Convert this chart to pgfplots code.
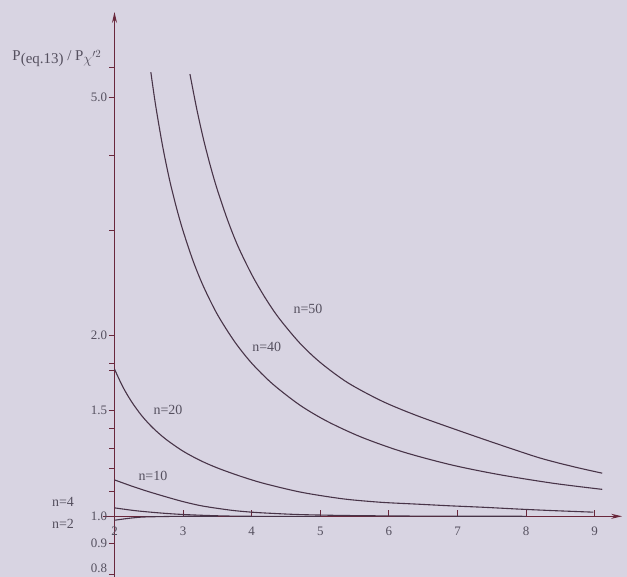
\documentclass[border=0pt]{standalone}
\usepackage{fontspec}
\setmainfont{Liberation Serif}
\usepackage{pgfplots}
\pgfplotsset{compat=1.18}
\usetikzlibrary{arrows.meta,backgrounds}
\definecolor{bg}{RGB}{216,212,226}
\definecolor{curve}{RGB}{72,52,72}
\definecolor{axcol}{RGB}{105,40,60}
\definecolor{txt}{RGB}{85,80,95}
\begin{document}
\begin{tikzpicture}
\begin{axis}[
  scale only axis, width=519.3bp, height=564.8bp,
  xmin=-0.17, xmax=7.40, ymin=0.793, ymax=6.93, ymode=log,
  axis lines=middle, clip=false,
  axis line style={axcol, line width=1.3pt, -{Stealth[length=11pt,width=5pt]}},
  xtick={0,1,2,3,4,5,6,7}, xticklabels={2,3,4,5,6,7,8,9},
  ytick={0.9,1.0,1.5,2.0,5.0},
  yticklabels={0.9,1.0,1.5,2.0,5.0},
  extra y ticks={0.8}, extra y tick labels={0.8},
  extra y tick style={yticklabel style={yshift=6pt}},
  minor ytick={1.1,1.2,1.3,1.4,1.75,1.8,3,4,5.6},
  hide obscured x ticks=false, hide obscured y ticks=false,
  tick style={axcol, line width=0.8pt},
  major tick length=6pt, minor tick length=5pt,
  tick align=center,
  every x tick/.append style={yshift=3pt},
  every y tick/.append style={xshift=-3pt},
  tick label style={font=\fontsize{13}{15}\selectfont, text=txt},
  xticklabel style={yshift=-4pt},
  yticklabel style={xshift=-1pt},
]
\coordinate (bbsw) at (axis cs:-1.669,0.7929);
\coordinate (bbne) at (axis cs:7.471,7.257);

% n=50
\addplot[curve, line width=1.1pt, smooth] coordinates {
(1.10,5.46)(1.20,4.77)(1.30,4.24)(1.40,3.83)(1.50,3.50)(1.65,3.115)(1.80,2.82)
(2.00,2.53)(2.20,2.31)(2.40,2.138)(2.70,1.945)(3.00,1.805)(3.40,1.670)(3.90,1.556)
(4.40,1.473)(5.00,1.392)(5.60,1.318)(6.20,1.251)(6.70,1.209)(7.11,1.180)};
% n=40
\addplot[curve, line width=1.1pt, smooth] coordinates {
(0.53,5.50)(0.60,4.84)(0.70,4.15)(0.80,3.65)(0.90,3.28)(1.00,2.99)(1.15,2.657)
(1.30,2.412)(1.50,2.170)(1.75,1.956)(2.00,1.800)(2.30,1.664)(2.70,1.533)(3.10,1.440)
(3.60,1.355)(4.20,1.281)(4.90,1.219)(5.60,1.174)(6.40,1.135)(7.11,1.109)};
% n=20
\addplot[curve, line width=1.1pt, smooth] coordinates {
(0,1.760)(0.12,1.645)(0.25,1.552)(0.40,1.470)(0.56,1.404)(0.75,1.344)(1.00,1.284)
(1.25,1.239)(1.50,1.204)(1.80,1.170)(2.10,1.141)(2.40,1.118)(2.70,1.098)(3.00,1.083)
(3.40,1.067)(3.90,1.055)(4.40,1.048)(4.90,1.041)(5.40,1.035)(5.90,1.028)(6.40,1.022)(6.98,1.016)};
% n=10
\addplot[curve, line width=1.1pt, smooth] coordinates {
(0,1.150)(0.27,1.121)(0.50,1.099)(0.77,1.076)(1.00,1.058)(1.25,1.042)(1.50,1.031)
(1.75,1.022)(2.00,1.016)(2.25,1.012)(2.70,1.0067)(3.40,1.003)(4.50,1.0007)(6.00,1.0)};
% n=4
\addplot[curve, line width=1.1pt, smooth] coordinates {
(0,1.033)(0.3,1.022)(0.66,1.013)(1.0,1.007)(1.5,1.002)(2.0,1.0)(3.0,1.0)};
% n=2
\addplot[curve, line width=1.1pt, smooth] coordinates {
(0,0.985)(0.2,0.992)(0.4,0.997)(0.7,0.999)(1.0,1.0)(1.5,1.0)};

\node[font=\fontsize{14}{16}\selectfont, text=txt] at (axis cs:2.82,2.22) {n=50};
\node[font=\fontsize{14}{16}\selectfont, text=txt] at (axis cs:2.22,1.915) {n=40};
\node[font=\fontsize{14}{16}\selectfont, text=txt] at (axis cs:0.78,1.507) {n=20};
\node[font=\fontsize{14}{16}\selectfont, text=txt] at (axis cs:0.56,1.166) {n=10};
\node[font=\fontsize{14}{16}\selectfont, text=txt] at (axis cs:-0.75,1.057) {n=4};
\node[font=\fontsize{14}{16}\selectfont, text=txt] at (axis cs:-0.75,0.972) {n=2};
\node[font=\fontsize{15}{17}\selectfont, text=txt] at (axis cs:-0.84,5.80)
  {P\raisebox{-3pt}{(eq.13)} / P\raisebox{-3pt}{$\chi'^{2}$}};
\end{axis}
\pgfresetboundingbox
\path[use as bounding box] (bbsw) rectangle (bbne);
\begin{scope}[on background layer]
\fill[bg] (bbsw) rectangle (bbne);
\end{scope}
\end{tikzpicture}
\end{document}
